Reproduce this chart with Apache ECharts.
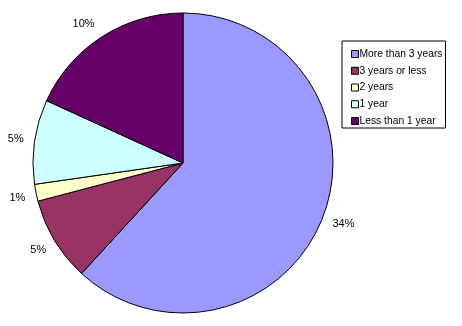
<!DOCTYPE html>
<html>
<head>
<meta charset="utf-8">
<script src="https://cdn.jsdelivr.net/npm/echarts@6/dist/echarts.min.js"></script>
<style>html,body{margin:0;padding:0;background:#fff}#c{width:462px;height:326px}</style>
</head>
<body>
<div id="c"></div>
<script>
const categories = ['More than 3 years', '3 years or less', '2 years', '1 year', 'Less than 1 year'];
const values = [34, 5, 1, 5, 10];
const colors = ['#9999FF', '#993366', '#FFFFCC', '#CCFFFF', '#660066'];
// small label nudges (styling only)
const labelOffsets = [[3, 0], [0, 0], [0, 1.5], [0, 0], [-8, 3]];

const chart = echarts.init(document.getElementById('c'), null, {renderer: 'canvas'});
const font = 'Liberation Sans, Arial, sans-serif';
chart.setOption({
  animation: false,
  backgroundColor: '#fff',
  legend: {
    orient: 'vertical',
    left: 342, top: 41,
    padding: [7.5, 3, 1.5, 9],
    backgroundColor: '#fff',
    borderColor: '#000', borderWidth: 1, borderRadius: 0,
    itemWidth: 7, itemHeight: 7, itemGap: 5.75,
    icon: 'rect',
    selectedMode: false,
    itemStyle: {borderColor: '#000', borderWidth: 1},
    textStyle: {fontFamily: font, fontSize: 10.3, color: '#000', lineHeight: 11, padding: [0, 0, 0, -4]},
    data: categories.map((n, i) => ({name: n, itemStyle: {color: colors[i]}}))
  },
  series: [{
    type: 'pie',
    center: [183, 163],
    radius: [0, 150],
    startAngle: 90,
    clockwise: true,
    silent: true,
    label: {show: false},
    labelLine: {show: false},
    itemStyle: {borderColor: '#000', borderWidth: 1},
    data: categories.map((n, i) => ({name: n, value: values[i], itemStyle: {color: colors[i]}}))
  }, {
    type: 'pie',
    center: [183, 163],
    radius: [148, 184],
    startAngle: 90,
    clockwise: true,
    silent: true,
    z: 3,
    itemStyle: {color: 'rgba(0,0,0,0)', borderWidth: 0},
    labelLine: {show: false},
    label: {
      show: true, position: 'inside', formatter: '{c}%',
      fontFamily: font, fontSize: 11, color: '#000'
    },
    data: values.map((v, i) => ({value: v, label: {offset: labelOffsets[i]}}))
  }]
});
</script>
</body>
</html>
